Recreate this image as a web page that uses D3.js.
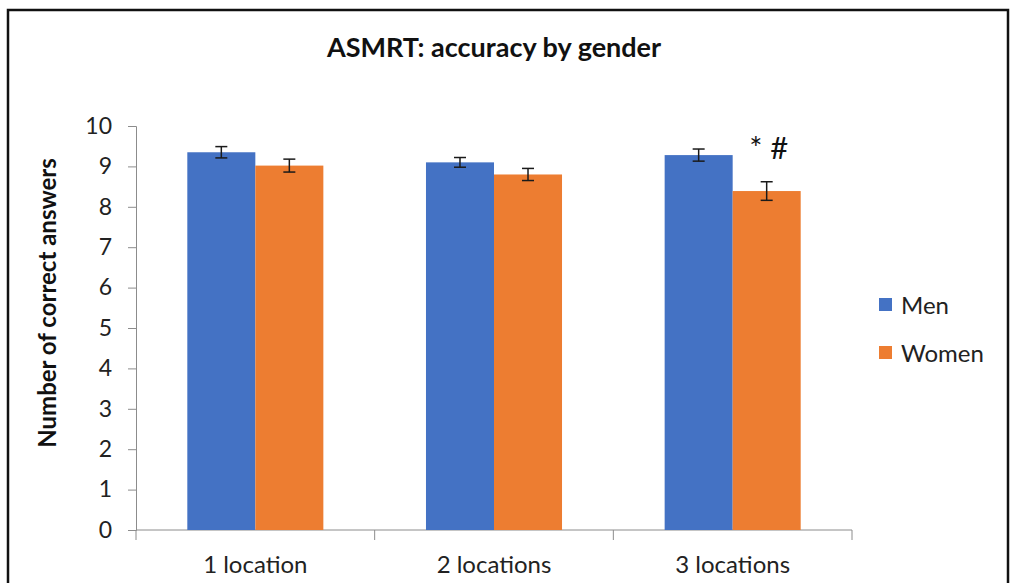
<!DOCTYPE html>
<html>
<head>
<meta charset="utf-8">
<script src="https://cdn.jsdelivr.net/npm/d3@7"></script>
<style>
  body { margin: 0; background: #fff; }
  text { font-family: Lato, "Open Sans", sans-serif; }
</style>
</head>
<body>
<div id="chart"></div>
<script>
// ---- data ----
const categories = ['1 location', '2 locations', '3 locations'];
const seriesNames = ['Men', 'Women'];
const menValues = [9.35, 9.1, 9.28];
const womenValues = [9.02, 8.8, 8.39];
const menErrors = [0.14, 0.12, 0.15];
const womenErrors = [0.16, 0.15, 0.23];
const yTicks = [0, 1, 2, 3, 4, 5, 6, 7, 8, 9, 10];
const colors = ['#4472C4', '#ED7D31'];

const width = 1015;
const height = 583;
const plotLeft = 136, plotRight = 852, plotTop = 126, plotBottom = 530;

const svg = d3.select('#chart').append('svg')
    .attr('width', width)
    .attr('height', height);

// frame
svg.append('rect')
    .attr('x', 8).attr('y', 10)
    .attr('width', 1000).attr('height', 620)
    .attr('fill', 'none')
    .attr('stroke', '#111')
    .attr('stroke-width', 2.5);

// scales
const x0 = d3.scaleBand().domain(categories).range([plotLeft, plotRight]).paddingInner(0.43).paddingOuter(0.215);
const x1 = d3.scaleBand().domain(seriesNames).range([0, x0.bandwidth()]);
const y = d3.scaleLinear().domain([0, 10]).range([plotBottom, plotTop]);

// title
svg.append('text')
    .attr('x', 494).attr('y', 57)
    .attr('text-anchor', 'middle')
    .attr('font-size', 27).attr('font-weight', 'bold')
    .attr('fill', '#111')
    .text('ASMRT: accuracy by gender');

// y axis
const yAxis = svg.append('g')
    .attr('transform', `translate(${plotLeft},0)`)
    .call(d3.axisLeft(y).tickValues(yTicks).tickSize(8).tickPadding(16).tickFormat(d3.format('d')));
yAxis.select('.domain').attr('stroke', '#8c8c8c');
yAxis.selectAll('.tick line').attr('stroke', '#8c8c8c');
yAxis.selectAll('.tick text').attr('font-size', 23).attr('fill', '#222')
    .style('font-family', 'Lato, "Open Sans", sans-serif');

// x axis with category boundary ticks
const xg = svg.append('g').attr('transform', `translate(0,${plotBottom})`);
xg.append('line').attr('x1', plotLeft).attr('x2', plotRight).attr('y1', 0).attr('y2', 0).attr('stroke', '#8c8c8c');
const step = (plotRight - plotLeft) / categories.length;
d3.range(categories.length + 1).forEach((i) => {
  xg.append('line')
      .attr('x1', plotLeft + i * step).attr('x2', plotLeft + i * step)
      .attr('y1', 0).attr('y2', 10)
      .attr('stroke', '#8c8c8c');
});
xg.selectAll('.xlabel')
    .data(categories)
    .enter()
    .append('text')
    .attr('class', 'xlabel')
    .attr('x', (d) => x0(d) + x0.bandwidth() / 2)
    .attr('y', 43)
    .attr('text-anchor', 'middle')
    .attr('font-size', 24)
    .attr('fill', '#222')
    .text((d) => d);

// y axis title
svg.append('text')
    .attr('transform', 'translate(56,303) rotate(-90)')
    .attr('text-anchor', 'middle')
    .attr('font-size', 24).attr('font-weight', 'bold')
    .attr('fill', '#111')
    .text('Number of correct answers');

// bars
const rows = categories.map((c, i) => ({
  cat: c,
  items: [
    { name: 'Men', value: menValues[i], err: menErrors[i], color: colors[0] },
    { name: 'Women', value: womenValues[i], err: womenErrors[i], color: colors[1] }
  ]
}));

const groups = svg.selectAll('.grp')
    .data(rows)
    .enter()
    .append('g')
    .attr('class', 'grp')
    .attr('transform', (d) => `translate(${x0(d.cat)},0)`);

groups.selectAll('rect')
    .data((d) => d.items)
    .enter()
    .append('rect')
    .attr('x', (d) => x1(d.name))
    .attr('y', (d) => y(d.value))
    .attr('width', x1.bandwidth())
    .attr('height', (d) => y(0) - y(d.value))
    .attr('fill', (d) => d.color);

// error bars
const eb = groups.selectAll('.err')
    .data((d) => d.items)
    .enter()
    .append('g')
    .attr('class', 'err')
    .attr('stroke', '#1a1a1a')
    .attr('stroke-width', 1.5);
const cx = (d) => x1(d.name) + x1.bandwidth() / 2;
eb.append('line').attr('x1', cx).attr('x2', cx)
    .attr('y1', (d) => y(d.value + d.err)).attr('y2', (d) => y(d.value - d.err));
eb.append('line').attr('x1', (d) => cx(d) - 6).attr('x2', (d) => cx(d) + 6)
    .attr('y1', (d) => y(d.value + d.err)).attr('y2', (d) => y(d.value + d.err));
eb.append('line').attr('x1', (d) => cx(d) - 6).attr('x2', (d) => cx(d) + 6)
    .attr('y1', (d) => y(d.value - d.err)).attr('y2', (d) => y(d.value - d.err));

// significance marker
svg.append('text')
    .attr('x', x0('3 locations') + x1('Women') + x1.bandwidth() / 2 + 2)
    .attr('y', 159)
    .attr('text-anchor', 'middle')
    .attr('font-size', 31)
    .attr('fill', '#111')
    .text('* #');

// legend
const legend = svg.selectAll('.leg')
    .data(seriesNames)
    .enter()
    .append('g')
    .attr('class', 'leg')
    .attr('transform', (d, i) => `translate(879,${298 + i * 48})`);
legend.append('rect').attr('width', 13).attr('height', 13).attr('fill', (d, i) => colors[i]);
legend.append('text')
    .attr('x', 22).attr('y', 7)
    .attr('dy', '0.36em')
    .attr('font-size', 24)
    .attr('fill', '#222')
    .text((d) => d);
</script>
</body>
</html>
